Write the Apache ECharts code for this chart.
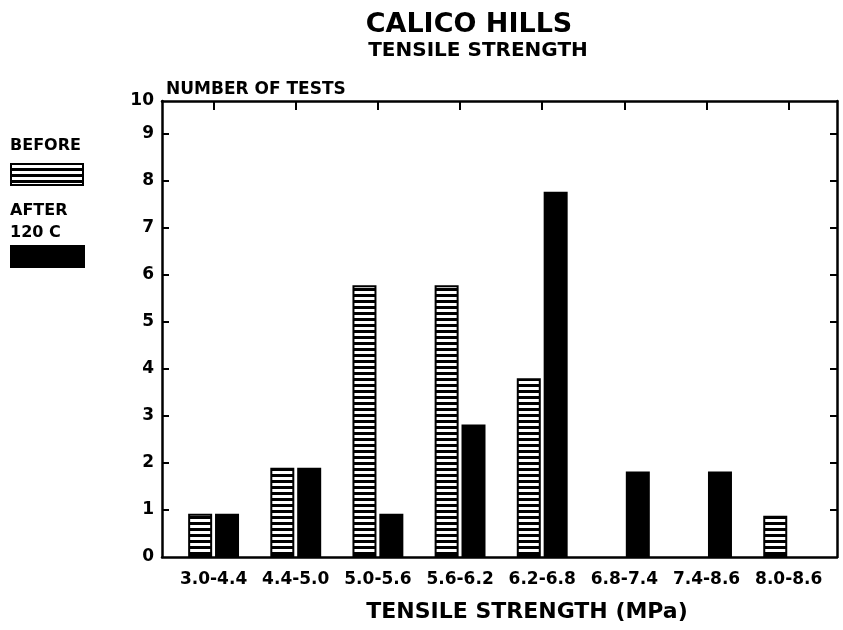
<!DOCTYPE html>
<html>
<head>
<meta charset="utf-8">
<script src="https://cdn.jsdelivr.net/npm/echarts@6/dist/echarts.min.js"></script>
<style>html,body{margin:0;padding:0;background:#fff}#c{width:843px;height:630px}</style>
</head>
<body>
<div id="c"></div>
<script>
const categories = ['3.0-4.4', '4.4-5.0', '5.0-5.6', '5.6-6.2', '6.2-6.8', '6.8-7.4', '7.4-8.6', '8.0-8.6'];
const beforeValues = [0.92, 1.9, 5.78, 5.78, 3.8, null, null, 0.88];
const afterValues = [0.92, 1.9, 0.92, 2.82, 7.77, 1.82, 1.82, null];
const yTickValues = [1, 2, 3, 4, 5, 6, 7, 8, 9];
const yLabelValues = [0, 1, 2, 3, 4, 5, 6, 7, 8, 9];
const yTopLabel = '10';

const FONT = 'DejaVu Sans';
const Y_MAX = 9.7;
const X_MIN = -0.628, X_MAX = 7.588;

// striped pattern
const pc = document.createElement('canvas');
pc.width = 8; pc.height = 6;
const pctx = pc.getContext('2d');
pctx.fillStyle = '#fff'; pctx.fillRect(0, 0, 8, 6);
pctx.fillStyle = '#000'; pctx.fillRect(0, 0, 8, 3);
const stripe = { image: pc, repeat: 'repeat' };

const toPairs = arr => arr.map((v, i) => v == null ? null : [i, v]).filter(d => d);
const catIdx = categories.map((c, i) => i);

const chart = echarts.init(document.getElementById('c'), null, { renderer: 'canvas' });
chart.setOption({
  animation: false,
  backgroundColor: '#fff',
  title: [
    { text: 'CALICO HILLS', left: 469, top: 11, textAlign: 'center', padding: 0,
      textStyle: { fontFamily: FONT, fontWeight: 'bold', fontSize: 27, color: '#000' } },
    { text: 'TENSILE STRENGTH', left: 478, top: 41, textAlign: 'center', padding: 0,
      textStyle: { fontFamily: FONT, fontWeight: 'bold', fontSize: 20, color: '#000' } }
  ],
  grid: { left: 162, right: 6, top: 101, bottom: 73, containLabel: false, outerBoundsMode: 'none' },
  xAxis: [
    {
      type: 'value', min: X_MIN, max: X_MAX, position: 'bottom',
      axisLine: { show: true, onZero: false, lineStyle: { color: '#000', width: 2.5 } },
      axisTick: { show: false },
      splitLine: { show: false },
      axisLabel: {
        customValues: catIdx, margin: 14,
        formatter: v => categories[Math.round(v)],
        fontFamily: FONT, fontWeight: 'bold', fontSize: 17, color: '#000'
      },
      name: 'TENSILE STRENGTH (MPa)', nameLocation: 'middle', nameGap: 44,
      nameTextStyle: { fontFamily: FONT, fontWeight: 'bold', fontSize: 22, color: '#000', padding: [0, 0, 0, 55] }
    },
    {
      type: 'value', min: X_MIN, max: X_MAX, position: 'top',
      axisLine: { show: true, onZero: false, lineStyle: { color: '#000', width: 2.5 } },
      axisTick: { show: true, inside: true, length: 9, customValues: catIdx, lineStyle: { color: '#000', width: 2 } },
      splitLine: { show: false },
      axisLabel: { show: false }
    }
  ],
  yAxis: [
    {
      type: 'value', min: 0, max: Y_MAX, position: 'left',
      axisLine: { show: true, onZero: false, lineStyle: { color: '#000', width: 2.5 } },
      axisTick: { show: true, inside: true, length: 7, customValues: yTickValues, lineStyle: { color: '#000', width: 2 } },
      splitLine: { show: false },
      axisLabel: {
        customValues: yLabelValues.concat([Y_MAX]), margin: 8,
        formatter: v => (v > 9.5 ? yTopLabel : String(v)),
        fontFamily: FONT, fontWeight: 'bold', fontSize: 17, color: '#000'
      },
      name: 'NUMBER OF TESTS', nameLocation: 'end', nameGap: 3,
      nameTextStyle: { fontFamily: FONT, fontWeight: 'bold', fontSize: 17, color: '#000', align: 'left', padding: [0, 0, 0, 4] }
    },
    {
      type: 'value', min: 0, max: Y_MAX, position: 'right',
      axisLine: { show: true, onZero: false, lineStyle: { color: '#000', width: 2.5 } },
      axisTick: { show: true, inside: true, length: 7, customValues: yTickValues, lineStyle: { color: '#000', width: 2 } },
      splitLine: { show: false },
      axisLabel: { show: false }
    }
  ],
  series: [
    {
      name: 'BEFORE', type: 'bar', xAxisIndex: 0, yAxisIndex: 0,
      barWidth: 24, barGap: '12%',
      data: toPairs(beforeValues),
      itemStyle: { color: stripe, borderColor: '#000', borderWidth: 2 }
    },
    {
      name: 'AFTER', type: 'bar', xAxisIndex: 0, yAxisIndex: 0,
      barWidth: 24, barGap: '12%',
      data: toPairs(afterValues),
      itemStyle: { color: '#000' }
    }
  ],
  graphic: [
    { type: 'text', x: 10, y: 138, style: { text: 'BEFORE', fontFamily: FONT, fontWeight: 'bold', fontSize: 16, fill: '#000' } },
    { type: 'rect', shape: { x: 11, y: 164, width: 72, height: 21 }, style: { fill: stripe, stroke: '#000', lineWidth: 2 } },
    { type: 'text', x: 10, y: 203, style: { text: 'AFTER', fontFamily: FONT, fontWeight: 'bold', fontSize: 16, fill: '#000' } },
    { type: 'text', x: 10, y: 225, style: { text: '120 C', fontFamily: FONT, fontWeight: 'bold', fontSize: 16, fill: '#000' } },
    { type: 'rect', shape: { x: 10, y: 245, width: 75, height: 23 }, style: { fill: '#000' } }
  ]
});
</script>
</body>
</html>
